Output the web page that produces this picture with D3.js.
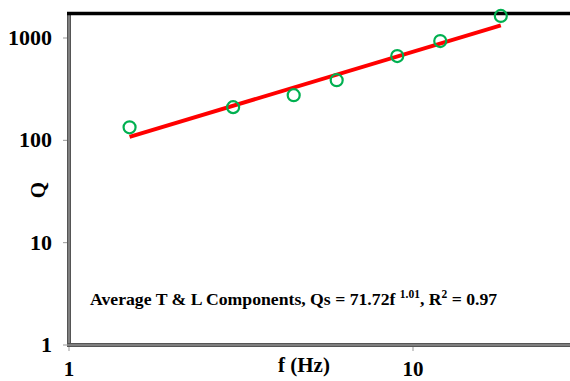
<!DOCTYPE html>
<html>
<head>
<meta charset="utf-8">
<script src="https://cdn.jsdelivr.net/npm/d3@7"></script>
<style>
  body { margin: 0; background: #fff; }
  svg { display: block; }
  .lbl { font-family: "Times New Roman", "Liberation Serif", "DejaVu Serif", serif; font-weight: bold; fill: #000; }
</style>
</head>
<body>
<svg id="chart" width="570" height="381"></svg>
<script>
const freqs = [1.5, 3, 4.5, 6, 9, 12, 18];
const qValues = [134, 211, 276, 387, 666, 934, 1643];
// fit Qs = 71.72 f^1.01
const fitA = 71.72, fitB = 1.01;
const fitRange = [1.5, 18];
const yTicks = [1, 10, 100, 1000];
const xTicks = [1, 10];

const svg = d3.select('#chart');
const plotLeft = 69, plotTop = 13, plotBottom = 345;

const x = d3.scaleLog().domain([1, 10]).range([plotLeft, 413]);
const y = d3.scaleLog().domain([1, 1000]).range([plotBottom, 38]);

// ticks
svg.append('g').selectAll('line').data(yTicks).enter().append('line')
  .attr('x1', plotLeft - 6).attr('x2', plotLeft)
  .attr('y1', d => y(d)).attr('y2', d => y(d))
  .attr('stroke', '#999').attr('stroke-width', 1);
svg.append('g').selectAll('line').data(xTicks).enter().append('line')
  .attr('x1', d => x(d)).attr('x2', d => x(d))
  .attr('y1', plotBottom).attr('y2', plotBottom + 6)
  .attr('stroke', '#999').attr('stroke-width', 1);

// axes lines (double look)
function axisLine(x1, y1, x2, y2) {
  svg.append('line').attr('x1', x1).attr('y1', y1).attr('x2', x2).attr('y2', y2)
    .attr('stroke', '#555').attr('stroke-width', 4);
  svg.append('line').attr('x1', x1).attr('y1', y1).attr('x2', x2).attr('y2', y2)
    .attr('stroke', '#aaa').attr('stroke-width', 1);
}
axisLine(plotLeft, plotTop, plotLeft, plotBottom + 1);
axisLine(plotLeft - 2, plotBottom, 570, plotBottom);
svg.append('line').attr('x1', plotLeft - 2).attr('x2', 570)
  .attr('y1', plotTop + 0.5).attr('y2', plotTop + 0.5)
  .attr('stroke', '#000').attr('stroke-width', 3.5);

// tick labels
svg.append('g').selectAll('text').data(yTicks).enter().append('text')
  .attr('class', 'lbl').attr('x', 52).attr('y', d => y(d) + 7)
  .attr('text-anchor', 'end').style('font-size', '22px')
  .text(d => d);
svg.append('g').selectAll('text').data(xTicks).enter().append('text')
  .attr('class', 'lbl').attr('x', d => x(d)).attr('y', 376)
  .attr('text-anchor', 'middle').style('font-size', '21px')
  .text(d => d);

// axis titles
svg.append('text').attr('class', 'lbl')
  .attr('transform', 'translate(45,190) rotate(-90)')
  .attr('text-anchor', 'middle').style('font-size', '21px').text('Q');
svg.append('text').attr('class', 'lbl')
  .attr('x', 304).attr('y', 372)
  .attr('text-anchor', 'middle').style('font-size', '21px').text('f (Hz)');

// fit line
const fitLine = d3.line().x(d => x(d)).y(d => y(fitA * Math.pow(d, fitB)));
svg.append('path').datum(fitRange).attr('d', fitLine)
  .attr('fill', 'none').attr('stroke', '#ff0000').attr('stroke-width', 4);

// data points
svg.append('g').selectAll('circle').data(freqs).enter().append('circle')
  .attr('cx', d => x(d)).attr('cy', (d, i) => y(qValues[i]))
  .attr('r', 6).attr('fill', 'none')
  .attr('stroke', '#00b050').attr('stroke-width', 2.2);

// annotation
const ann = svg.append('text').attr('class', 'lbl')
  .attr('x', 90).attr('y', 305).style('font-size', '17.7px');
ann.append('tspan').text('Average T & L Components, Qs = 71.72f ');
ann.append('tspan').attr('dy', -7).style('font-size', '11.5px').text('1.01');
ann.append('tspan').attr('dy', 7).text(', R');
ann.append('tspan').attr('dy', -7).style('font-size', '11.5px').text('2');
ann.append('tspan').attr('dy', 7).text(' = 0.97');
</script>
</body>
</html>
